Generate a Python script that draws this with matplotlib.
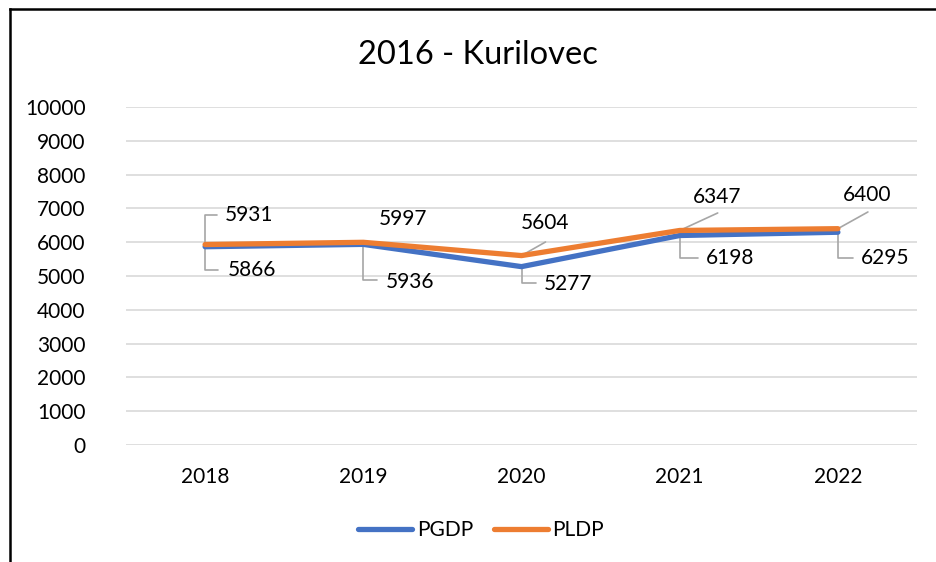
import matplotlib
matplotlib.use("Agg")
import matplotlib.pyplot as plt
from matplotlib.lines import Line2D

plt.rcParams['font.family'] = ['Lato', 'DejaVu Sans']

years = ["2018", "2019", "2020", "2021", "2022"]
pgdp = [5866, 5936, 5277, 6198, 6295]
pldp = [5931, 5997, 5604, 6347, 6400]
title = "2016 - Kurilovec"
y_ticks = list(range(0, 10001, 1000))

BLUE = "#4472C4"
ORANGE = "#ED7D31"
GRID = "#D9D9D9"
LEADER = "#A6A6A6"
FS = 15

W, H, DPI = 936, 562, 100
fig = plt.figure(figsize=(W / DPI, H / DPI), dpi=DPI)
ax = fig.add_axes([126 / W, 1 - 445 / H, (917 - 126) / W, (445 - 107) / H])

x = list(range(len(years)))
ax.plot(x, pgdp, color=BLUE, lw=3.8, solid_capstyle='round', solid_joinstyle='round', label="PGDP", zorder=3)
ax.plot(x, pldp, color=ORANGE, lw=3.8, solid_capstyle='round', solid_joinstyle='round', label="PLDP", zorder=4)

ax.set_xlim(-0.5, len(years) - 0.5)
ax.set_ylim(0, 10000)
ax.set_yticks(y_ticks)
ax.set_yticklabels([str(v) for v in y_ticks])
ax.set_xticks(x)
ax.set_xticklabels(years)
ax.tick_params(axis='y', length=0, pad=29, labelsize=FS, colors='black')
ax.tick_params(axis='x', length=0, pad=16, labelsize=FS, colors='black')
ax.grid(axis='y', color=GRID, lw=1.2, zorder=0)
for s in ax.spines.values():
    s.set_visible(False)

# label styles: (text dx, text dy, leader kind, leader end dx, dy) in pixels
pldp_style = [(20, 29.5, 'elbow', 12, 30), (15, 23, None, 0, 0), (-1, 32.6, 'diag', 24, 13.6),
              (13, 33.5, 'diag', 38, 17.5), (5, 33.7, 'diag', 30, 16.7)]
pgdp_style = [(23, -23, 'elbow', 13, -23), (22, -38, 'elbow', 14, -36), (22, -17.4, 'elbow', 14, -16.4),
              (26, -22.5, 'elbow', 18, -22.5), (23, -25.8, 'elbow', 15, -25.8)]

def label_series(vals, styles):
    for i, (v, st) in enumerate(zip(vals, styles)):
        tdx, tdy, kind, ldx, ldy = st
        ax.annotate(str(v), xy=(i, v), xytext=(tdx, tdy), textcoords='offset pixels',
                    ha='left', va='center', fontsize=FS, color='black', zorder=6)
        if kind == 'elbow':
            ax.annotate("", xy=(i, v), xytext=(ldx, ldy), textcoords='offset pixels',
                        arrowprops=dict(arrowstyle='-', color=LEADER, lw=1.2, shrinkA=0, shrinkB=0,
                                        connectionstyle='angle,angleA=0,angleB=90,rad=0'), zorder=2)
        elif kind == 'diag':
            ax.annotate("", xy=(i, v), xytext=(ldx, ldy), textcoords='offset pixels',
                        arrowprops=dict(arrowstyle='-', color=LEADER, lw=1.2, shrinkA=0, shrinkB=0), zorder=2)

label_series(pldp, pldp_style)
label_series(pgdp, pgdp_style)

fig.text(478 / W, 1 - 55 / H, title, ha='center', va='center', fontsize=23.5, color='black')

handles = [Line2D([0], [0], color=BLUE, lw=3.8, solid_capstyle='round'),
           Line2D([0], [0], color=ORANGE, lw=3.8, solid_capstyle='round')]
fig.legend(handles, ["PGDP", "PLDP"], loc='center', bbox_to_anchor=(481 / W, 1 - 530 / H), ncol=2,
           frameon=False, fontsize=FS, handlelength=2.6, handletextpad=0.2, columnspacing=1.0)

# chart border (left and top visible)
fig.add_artist(Line2D([9.5 / W, 9.5 / W], [0, 1 - 9 / H], transform=fig.transFigure, color='black', lw=1.8))
fig.add_artist(Line2D([9.5 / W, 1], [1 - 9 / H, 1 - 9 / H], transform=fig.transFigure, color='black', lw=1.8))

fig.savefig("out.png", dpi=DPI, facecolor='white')
